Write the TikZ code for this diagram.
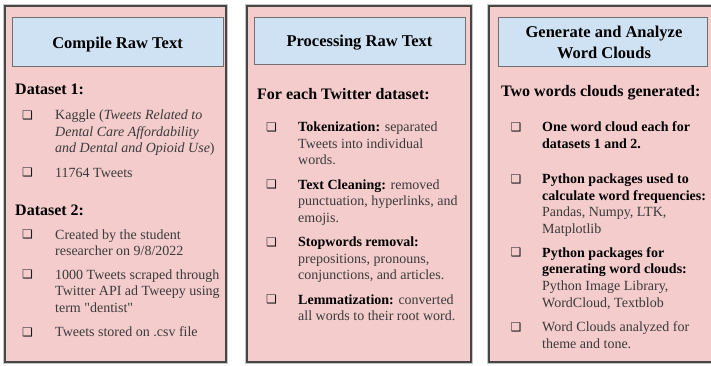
\documentclass[tikz,border=0pt]{standalone}
\usepackage{fontspec}
\setmainfont{Liberation Serif}[Ligatures=TeXOff]
\newfontfamily\symfont{DejaVu Sans}

\definecolor{panelpink}{HTML}{F4CCCC}
\definecolor{titleblue}{HTML}{CFE2F3}
\definecolor{panelline}{HTML}{464646}
\definecolor{titleline}{HTML}{707070}
\definecolor{bodygray}{HTML}{3A3A3A}

% bold lead-in words inside an item
\newcommand\kw[1]{\textbf{\color{black}#1}}
% stacked lines whose baseline is the first line
\newcommand\lstack[1]{\begin{tabular}[t]{@{}l@{}}#1\end{tabular}}
\newcommand\cstack[1]{\begin{tabular}[t]{@{}c@{}}#1\end{tabular}}

\tikzset{
  panel/.style={draw=panelline, line width=1.6pt, fill=panelpink,
    preaction={draw=black!22, line width=3.4pt}},
  titlebox/.style={draw=titleline, line width=1pt, fill=titleblue},
  titletext/.style={font=\fontsize{16.5}{20.6}\selectfont\bfseries,
    text=black, inner sep=0pt, anchor=base},
  heading/.style={font=\fontsize{16}{19}\selectfont\bfseries,
    text=black, inner sep=0pt, anchor=base west},
  item/.style={font=\fontsize{14}{16.6}\selectfont, text=bodygray,
    inner sep=0pt, anchor=base west},
  bullet/.style={font=\symfont\fontsize{12}{12}\selectfont,
    text=black!90, inner sep=0pt, anchor=base}
}

\begin{document}
\begin{tikzpicture}[x=1pt, y=-1pt]
\useasboundingbox (0,0) rectangle (711,365);
\clip (0,0) rectangle (711,365);

% ---------- panels ----------
\draw[panel] (5,6) rectangle (226,362);
\draw[panel] (247,6) rectangle (471,362);
\draw[panel] (489,6) rectangle (718,362);

% ---------- title bars ----------
\draw[titlebox] (12,17) rectangle (223,66);
\draw[titlebox] (254,17) rectangle (465,64);
\draw[titlebox] (498,17) rectangle (707,66);

\node[titletext] (t1) at (117.5,48.3) {Compile Raw Text};
\node[titletext] (t2) at (359.5,46.7) {Processing Raw Text};
\node[titletext] (t3) at (604,37.7) {\cstack{Generate and Analyze\\Word Clouds}};

% ---------- column 1 ----------
\node[heading] (h1a) at (15,94.5) {Dataset 1:};
\node[bullet] (b1) at (27.5,119) {❑};
\node[item] (i1) at (55,119.5) {\lstack{Kaggle (\textit{Tweets Related to}\\\textit{Dental Care Affordability}\\\textit{and Dental and Opioid Use})}};
\node[bullet] (b2) at (27.5,176.5) {❑};
\node[item] (i2) at (55,177) {11764 Tweets};

\node[heading] (h1b) at (15,215) {Dataset 2:};
\node[bullet] (b3) at (27.5,238.8) {❑};
\node[item] (i3) at (55,239.3) {\lstack{Created by the student\\researcher on 9/8/2022}};
\node[bullet] (b4) at (27.5,278.8) {❑};
\node[item] (i4) at (55,279.3) {\lstack{1000 Tweets scraped through\\Twitter API ad Tweepy using\\term "dentist"}};
\node[bullet] (b5) at (27.5,336.2) {❑};
\node[item] (i5) at (55,336.7) {Tweets stored on .csv file};

% ---------- column 2 ----------
\node[heading] (h2) at (257,99.3) {For each Twitter dataset:};
\node[bullet] (b6) at (271.5,131.2) {❑};
\node[item] (i6) at (298,131.7) {\lstack{\kw{Tokenization:} separated\\Tweets into individual\\words.}};
\node[bullet] (b7) at (271.5,188.8) {❑};
\node[item] (i7) at (298,189.3) {\lstack{\kw{Text Cleaning:} removed\\punctuation, hyperlinks, and\\emojis.}};
\node[bullet] (b8) at (271.5,246.2) {❑};
\node[item] (i8) at (298,246.7) {\lstack{\kw{Stopwords removal:}\\prepositions, pronouns,\\conjunctions, and articles.}};
\node[bullet] (b9) at (271.5,303.5) {❑};
\node[item] (i9) at (298,304) {\lstack{\kw{Lemmatization:} converted\\all words to their root word.}};

% ---------- column 3 ----------
\node[heading] (h3) at (501,96.7) {Two words clouds generated:};
\node[bullet] (b10) at (516,131.2) {❑};
\node[item] (i10) at (542,131.7) {\lstack{\kw{One word cloud each for}\\\kw{datasets 1 and 2.}}};
\node[bullet] (b11) at (516,183) {❑};
\node[item] (i11) at (542,183.5) {\lstack{\kw{Python packages used to}\\\kw{calculate word frequencies:}\\Pandas, Numpy, LTK,\\Matplotlib}};
\node[bullet] (b12) at (516,256.8) {❑};
\node[item] (i12) at (542,257.3) {\lstack{\kw{Python packages for}\\\kw{generating word clouds:}\\Python Image Library,\\WordCloud, Textblob}};
\node[bullet] (b13) at (516,331.2) {❑};
\node[item] (i13) at (542,331.7) {\lstack{Word Clouds analyzed for\\theme and tone.}};
\end{tikzpicture}
\end{document}
